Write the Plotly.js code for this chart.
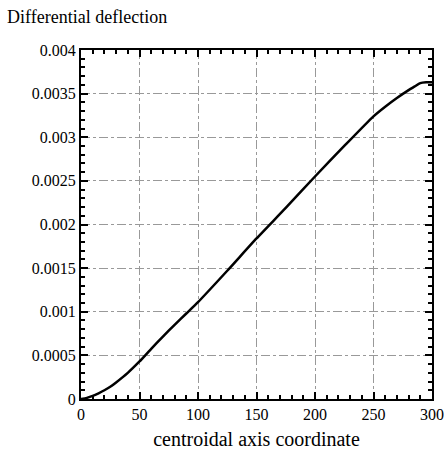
<!DOCTYPE html>
<html>
<head>
<meta charset="utf-8">
<script src="https://cdn.plot.ly/plotly-3.0.1.min.js"></script>
<style>html,body{margin:0;padding:0;background:#fff;}#chart{width:444px;height:452px;}</style>
</head>
<body>
<div id="chart"></div>
<script>
const xCoord = [0, 5, 10, 15, 20, 25, 30, 40, 50, 60, 70, 80, 90, 100, 125, 150, 175, 200, 225, 250, 260, 270, 280, 285, 290, 295, 300];
const deflection = [0, 0.000013, 0.000035, 0.000065, 0.0001, 0.00014, 0.00019, 0.0003, 0.00043, 0.000575, 0.000715, 0.00085, 0.00098, 0.00111, 0.00147, 0.00184, 0.00219, 0.00255, 0.0029, 0.00324, 0.00335, 0.00345, 0.00354, 0.00358, 0.00362, 0.00363, 0.00363];
const xTicks = [0, 50, 100, 150, 200, 250, 300];
const xTickText = ["0", "50", "100", "150", "200", "250", "300"];
const yTicks = [0, 0.0005, 0.001, 0.0015, 0.002, 0.0025, 0.003, 0.0035, 0.004];
const yTickText = ["0", "0.0005", "0.001", "0.0015", "0.002", "0.0025", "0.003", "0.0035", "0.004"];

const FAM = "Liberation Serif";

Plotly.newPlot("chart", [{
  x: xCoord, y: deflection, type: "scatter", mode: "lines",
  line: {color: "#000", width: 2.5, shape: "spline", smoothing: 0.6}
}, {
  x: [xCoord[0]], y: [deflection[0]], xaxis: "x2", yaxis: "y2", type: "scatter", mode: "markers",
  marker: {opacity: 0}
}], {
  width: 444, height: 452,
  margin: {l: 81, r: 12, t: 50, b: 53},
  showlegend: false,
  font: {family: FAM, size: 16, color: "#000"},
  title: {text: "Differential deflection", font: {family: FAM, size: 18, color: "#000"},
          xref: "container", yref: "container", x: 0.016, xanchor: "left", y: 0.962, yanchor: "middle"},
  xaxis: {
    range: [0, 300], tickmode: "array", tickvals: xTicks, ticktext: xTickText,
    showline: true, linecolor: "#000", linewidth: 2, mirror: "allticks",
    ticks: "inside", ticklen: 7, tickwidth: 1.5, tickcolor: "#000",
    showgrid: true, gridcolor: "#999", griddash: "dashdot", gridwidth: 1,
    zeroline: false,
    title: {text: "centroidal axis coordinate", font: {family: FAM, size: 20, color: "#000"}, standoff: 10}
  },
  yaxis: {
    range: [0, 0.004], tickmode: "array", tickvals: yTicks, ticktext: yTickText,
    showline: true, linecolor: "#000", linewidth: 2, mirror: "allticks",
    ticks: "inside", ticklen: 7, tickwidth: 1.5, tickcolor: "#000",
    showgrid: true, gridcolor: "#999", griddash: "dashdot", gridwidth: 1,
    zeroline: false
  },
  xaxis2: {
    overlaying: "x", range: [0, 300], tickmode: "linear", tick0: 0, dtick: 10,
    ticks: "inside", ticklen: 4, tickwidth: 1.5, tickcolor: "#000", mirror: "allticks",
    showline: false, showgrid: false, zeroline: false, showticklabels: false
  },
  yaxis2: {
    overlaying: "y", range: [0, 0.004], tickmode: "linear", tick0: 0, dtick: 0.0001,
    ticks: "inside", ticklen: 4, tickwidth: 1.5, tickcolor: "#000", mirror: "allticks",
    showline: false, showgrid: false, zeroline: false, showticklabels: false
  }
}, {displayModeBar: false});
</script>
</body>
</html>
